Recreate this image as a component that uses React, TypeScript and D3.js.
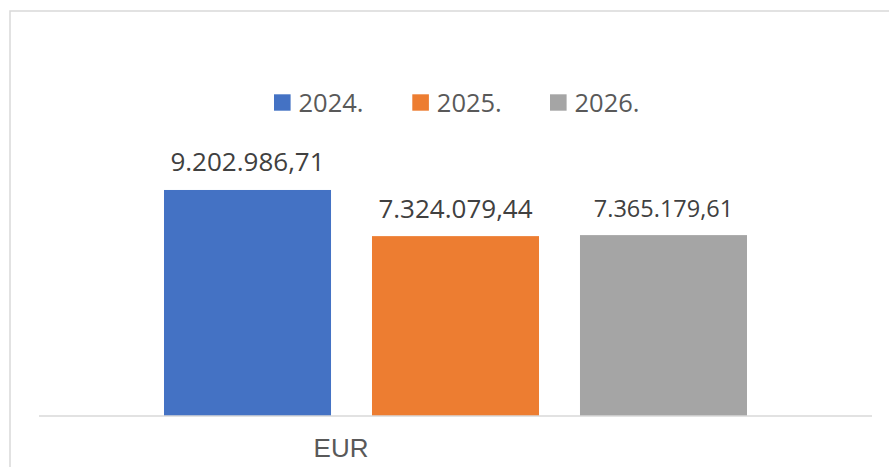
import React from "react";
import * as d3 from "d3";

const categories = ["EUR"];
const seriesNames = ["2024.", "2025.", "2026."];
const seriesValues = [9202986.71, 7324079.44, 7365179.61];
const valueLabels = ["9.202.986,71", "7.324.079,44", "7.365.179,61"];
const colors = ["#4472C4", "#ED7D31", "#A5A5A5"];
const labelSizes = [26, 26, 23.5];

export default function App() {
  const W = 889, H = 467;
  const axisY = 416;
  const y = d3.scaleLinear().domain([0, 10000000]).range([axisY, axisY - 245.6]);
  const x0 = d3.scaleBand<string>().domain(categories).range([39, 872]).paddingInner(0).paddingOuter(0.2144);
  const x1 = d3.scaleBand<string>().domain(seriesNames).range([0, x0.bandwidth()]).paddingInner(0.197).paddingOuter(0);
  const font = "'Open Sans', 'DejaVu Sans', sans-serif";
  const legendX = [274, 412.3, 550];
  return (
    <svg width={W} height={H} style={{ position: "absolute", left: 0, top: 0, background: "#fff" }}>
      <rect x={0} y={0} width={W} height={H} fill="#fff" />
      <rect x={10} y={11} width={W + 20} height={H + 20} fill="none" stroke="#d9d9d9" strokeWidth={1.5} />
      {/* legend */}
      {seriesNames.map((s, i) => (
        <g key={s}>
          <rect x={legendX[i]} y={94.3} width={16.6} height={16.4} fill={colors[i]} />
          <text x={legendX[i] + 24.5} y={111.5} fontFamily={font} fontSize={25.5} fill="#595959">{s}</text>
        </g>
      ))}
      {categories.map((c) => (
        <g key={c}>
          {seriesNames.map((s, i) => {
            const bx = (x0(c) ?? 0) + (x1(s) ?? 0);
            const bw = x1.bandwidth();
            const top = y(seriesValues[i]);
            return (
              <g key={s}>
                <rect x={bx} y={top} width={bw} height={axisY - top} fill={colors[i]} />
                <text x={bx + bw / 2} y={top - 18.5} textAnchor="middle" fontFamily={font} fontSize={labelSizes[i]} fill="#404040">
                  {valueLabels[i]}
                </text>
              </g>
            );
          })}
        </g>
      ))}
      <line x1={39} x2={872} y1={axisY} y2={axisY} stroke="#d9d9d9" strokeWidth={1.5} />
      <text x={341} y={457.3} textAnchor="middle" fontFamily="'Liberation Sans', Arial, sans-serif" fontSize={26} fill="#595959">
        {categories[0]}
      </text>
    </svg>
  );
}
